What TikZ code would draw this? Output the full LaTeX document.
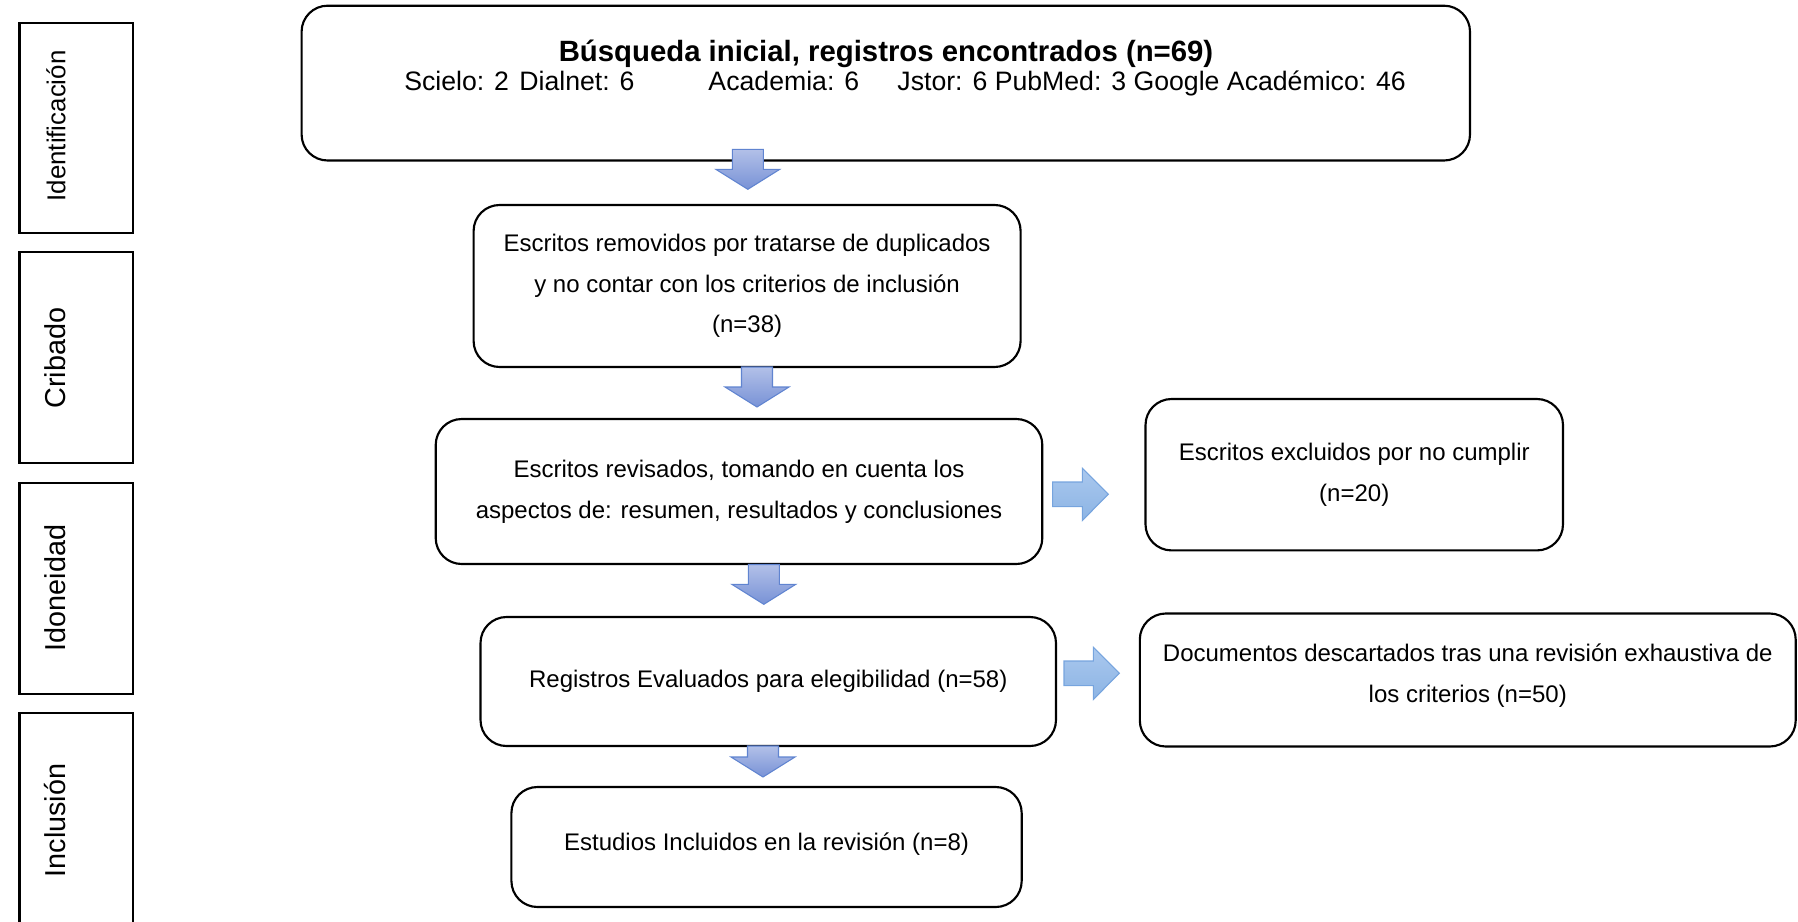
\documentclass[tikz,border=0pt]{standalone}
\usepackage{fontspec}
\setmainfont{Liberation Sans}
\definecolor{dntop}{RGB}{178,192,232}
\definecolor{dnbot}{RGB}{120,146,214}
\definecolor{dnline}{RGB}{96,132,208}
\definecolor{rttop}{RGB}{170,200,238}
\definecolor{rtbot}{RGB}{140,180,228}
\definecolor{rtline}{RGB}{118,164,222}
\newcommand{\blkdown}[4]{%
  \shadedraw[dnarrow] (#1-15.5,#2) -- (#1+15.5,#2) -- (#1+15.5,#3) -- (#1+32,#3) -- (#1,#4) -- (#1-32,#3) -- (#1-15.5,#3) -- cycle;}
\newcommand{\blkright}[4]{%
  \shadedraw[rtarrow] (#1,#4-12.3) -- (#2,#4-12.3) -- (#2,#4-26.2) -- (#3,#4) -- (#2,#4+26.2) -- (#2,#4+12.3) -- (#1,#4+12.3) -- cycle;}
\begin{document}
\begin{tikzpicture}[x=0.75pt,y=-0.75pt,
  rbox/.style={draw, line width=1.6pt, rounded corners=19.5pt, fill=white, inner sep=0pt, align=center, font=\fontsize{18}{30.5}\selectfont},
  phase/.style={draw, line width=2pt, inner sep=0pt, minimum width=85.1pt},
  phaselbl/.style={rotate=90, anchor=base, inner sep=0pt, font=\fontsize{21.6}{26}\selectfont},
  dnarrow/.style={top color=dntop, bottom color=dnbot, draw=dnline, line width=0.8pt, line join=miter},
  rtarrow/.style={top color=rttop, bottom color=rtbot, draw=rtline, line width=0.8pt, line join=miter}]
\useasboundingbox (0,0) rectangle (1798,921);
\clip (0,0) rectangle (1798,921);

% phase boxes
\node[phase, minimum height=157.5pt] (p1) at (76.25,128) {};
\node[phase, minimum height=158.25pt] (p2) at (76.25,357.5) {};
\node[phase, minimum height=158.25pt] (p3) at (76.25,588.5) {};
\node[phase, minimum height=161.25pt] (p4) at (76.25,820.5) {};
\node[phaselbl, font=\fontsize{19.4}{24}\selectfont] (l1) at (65.4,126) {Identificación};
\node[phaselbl] (l2) at (65.4,358) {Cribado};
\node[phaselbl] (l3) at (65.4,588) {Idoneidad};
\node[phaselbl] (l4) at (65.4,820.5) {Inclusión};

% top box
\node[rbox, minimum width=876.3pt, minimum height=116.1pt] (b0) at (885.8,83.1) {};
\node[anchor=base, inner sep=0pt, font=\bfseries\fontsize{22}{26}\selectfont] (title) at (886,61) {Búsqueda inicial, registros encontrados (n=69)};
\node[anchor=base west, inner sep=0pt, font=\fontsize{20}{24}\selectfont] (src) at (404,90) {Scielo: 2\hspace{7.8pt}Dialnet: 6\hspace{55.5pt}Academia: 6\hspace{28.7pt}Jstor: 6 PubMed: 3 Google Académico: 46};

% flow boxes
\node[rbox, minimum width=410.25pt, minimum height=121.5pt] (b2) at (747.1,286) {Escritos removidos por tratarse de duplicados\\y no contar con los criterios de inclusión\\(n=38)};
\node[rbox, minimum width=454.95pt, minimum height=108.75pt] (b3) at (739,491.5) {Escritos revisados, tomando en cuenta los\\aspectos de: resumen, resultados y conclusiones};
\node[rbox, minimum width=313.1pt, minimum height=113.55pt] (b4) at (1354.25,474.7) {Escritos excluidos por no cumplir\\(n=20)};
\node[rbox, minimum width=431.6pt, minimum height=96.75pt] (b5) at (768.25,681.5) {Registros Evaluados para elegibilidad (n=58)};
\node[rbox, minimum width=491.9pt, minimum height=99.75pt] (b6) at (1467.75,680) {};
\node[align=center, inner sep=0pt, font=\fontsize{18}{30.5}\selectfont] (t6) at ([yshift=3.5pt]b6.center) {Documentos descartados tras una revisión exhaustiva de\\los criterios (n=50)};
\node[rbox, minimum width=382.7pt, minimum height=90pt] (b7) at (766.55,847) {};
\node[inner sep=0pt, font=\fontsize{18}{30.5}\selectfont] (t7) at ([yshift=2.5pt]b7.center) {Estudios Incluidos en la revisión (n=8)};

% block arrows
\blkdown{747.8}{149.3}{169.3}{189.3}
\blkdown{757}{367}{387}{407}
\blkdown{763.8}{564.5}{584.3}{604.3}
\blkdown{763}{746}{757}{777}
\blkright{1052.7}{1082.3}{1108.3}{494.3}
\blkright{1064}{1093.3}{1119.3}{673.3}
\end{tikzpicture}
\end{document}
